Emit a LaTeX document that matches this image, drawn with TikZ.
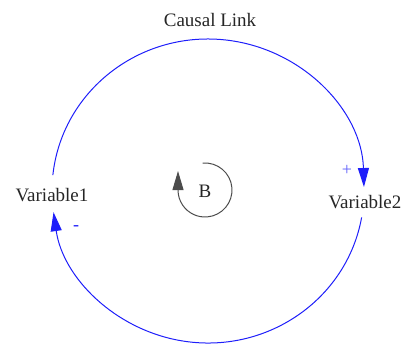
\documentclass[tikz,border=0pt]{standalone}
\usepackage{fontspec}
\setmainfont{Liberation Serif}
\usetikzlibrary{arrows.meta}
\definecolor{linkblue}{RGB}{30,30,250}
\tikzset{
  lbl/.style={font=\fontsize{19}{22}\selectfont, inner sep=0pt, text=black!85},
  link/.style={draw=linkblue, line width=1pt, -{Triangle[length=19pt,width=11pt]}},
  pol/.style={text=linkblue!70, font=\fontsize{18}{20}\selectfont, inner sep=0pt},
  loopline/.style={draw=black!70, line width=1pt, -{Triangle[length=19pt,width=11pt]}}
}
\begin{document}
\begin{tikzpicture}[x=1pt,y=1pt]
\useasboundingbox (0,0) rectangle (406,346);
\node[lbl] (title) at (210,326) {Causal Link};
\node[lbl] (v1) at (52,151) {Variable1};
\node[lbl] (v2) at (365,144) {Variable2};
\node[lbl] (b) at (205,155) {B};
\coordinate (c) at (208,155);
\path (c) ++(174:156 and 152) coordinate (up0);
\path (c) ++(-10:156 and 152) coordinate (lo0);
\draw[link] (up0) arc[start angle=174, end angle=1.5, x radius=156, y radius=152];
\draw[link] (lo0) arc[start angle=-10, end angle=-172, x radius=156, y radius=152];
\node[pol] (plus) at (347,176) {+};
\node[pol, text=linkblue] (minus) at (76,118) {-};
\coordinate (lc) at (205,156);
\path (lc) ++(95:27) coordinate (l0);
\draw[loopline] (l0) arc[start angle=95, end angle=-180, radius=27] -- ++(0,19);
\end{tikzpicture}
\end{document}
